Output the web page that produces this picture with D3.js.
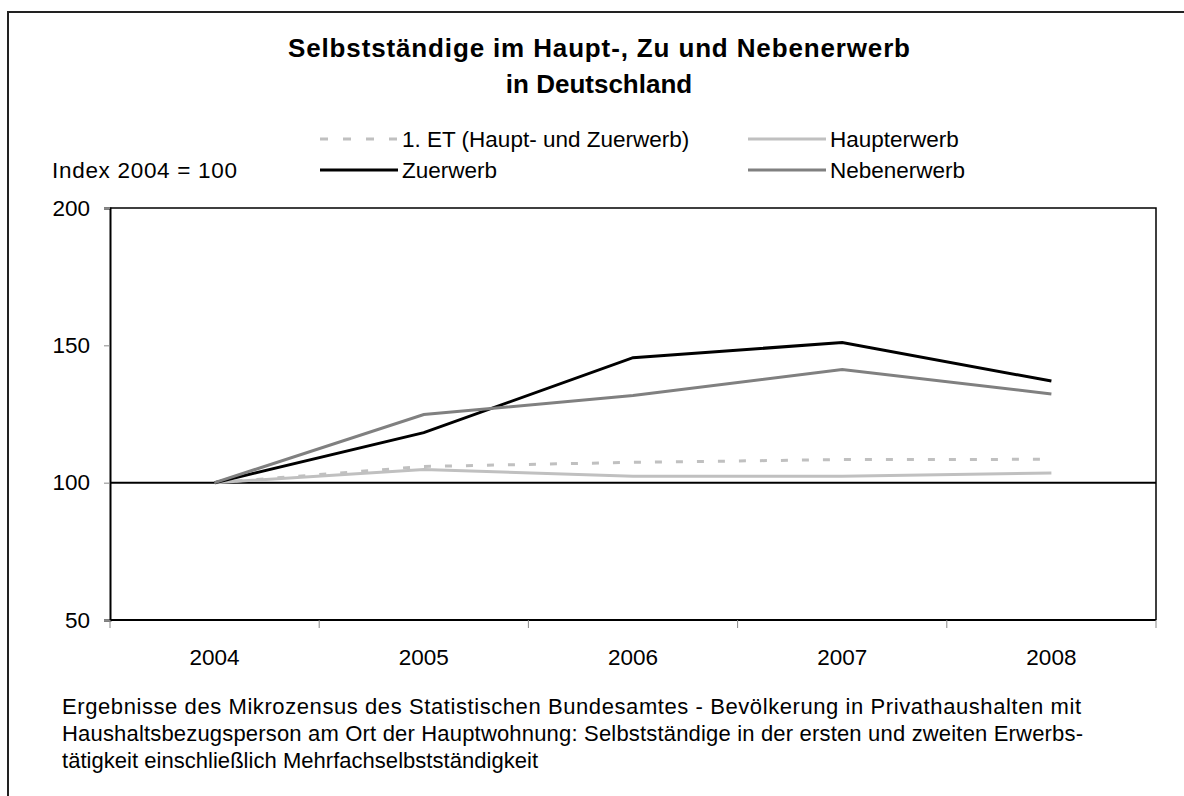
<!DOCTYPE html>
<html>
<head>
<meta charset="utf-8">
<script src="https://cdn.jsdelivr.net/npm/d3@7"></script>
<style>
  body { margin: 0; background: #fff; }
  svg text { font-family: "Liberation Sans", Arial, sans-serif; fill: #000; }
</style>
</head>
<body>
<svg id="chart" width="1184" height="796"></svg>
<script>
// data
const years = ["2004", "2005", "2006", "2007", "2008"];
const et = [100, 105.9, 107.4, 108.4, 108.5];          // 1. ET (Haupt- und Zuerwerb)
const haupt = [100, 104.8, 102.3, 102.3, 103.5];       // Haupterwerb
const zuerwerb = [100, 118.2, 145.5, 151, 137];        // Zuerwerb
const neben = [100, 124.8, 131.7, 141.2, 132.3];       // Nebenerwerb
const yTicks = [50, 100, 150, 200];
const titleLines = ["Selbstständige im Haupt-, Zu und Nebenerwerb", "in Deutschland"];
const footLines = [
  "Ergebnisse des Mikrozensus des Statistischen Bundesamtes - Bevölkerung in Privathaushalten mit",
  "Haushaltsbezugsperson am Ort der Hauptwohnung: Selbstständige in der ersten und zweiten Erwerbs-",
  "tätigkeit einschließlich Mehrfachselbstständigkeit"
];

const series = [
  {name: "1. ET (Haupt- und Zuerwerb)", values: et, color: "#c0c0c0", dash: "7,14"},
  {name: "Haupterwerb", values: haupt, color: "#c0c0c0", dash: null},
  {name: "Zuerwerb", values: zuerwerb, color: "#000000", dash: null},
  {name: "Nebenerwerb", values: neben, color: "#808080", dash: null}
];

const svg = d3.select("#chart");

// outer frame
svg.append("path")
  .attr("d", "M8,796 V12 H1184")
  .attr("fill", "none")
  .attr("stroke", "#222")
  .attr("stroke-width", 2);

const x = d3.scaleBand().domain(years).range([110, 1156]).paddingInner(0).paddingOuter(0);
const y = d3.scaleLinear().domain([50, 200]).range([620, 208]);

// title
const titleW = [622, null];
svg.selectAll(".title").data(titleLines).enter()
  .append("text")
  .attr("class", "title")
  .attr("x", 599)
  .attr("y", (d, i) => 57 + i * 36)
  .attr("text-anchor", "middle")
  .attr("textLength", (d, i) => titleW[i])
  .style("font-size", "26px")
  .style("font-weight", "bold")
  .text(d => d);

svg.append("text")
  .attr("x", 52).attr("y", 178)
  .attr("textLength", 185)
  .style("font-size", "22.5px")
  .text("Index 2004 = 100");

// plot frame (top and right)
svg.append("path")
  .attr("d", `M110,${y(200)} H1156 V${y(50)}`)
  .attr("fill", "none").attr("stroke", "#000").attr("stroke-width", 1.5);

// y axis
const yAxis = svg.append("g")
  .attr("transform", "translate(110,0)")
  .call(d3.axisLeft(y).tickValues(yTicks).tickSize(6).tickPadding(14).tickFormat(d3.format("d")));
yAxis.select(".domain").attr("stroke", "#000").attr("stroke-width", 2);
yAxis.selectAll(".tick line").attr("stroke", "#888");
yAxis.selectAll(".tick text").style("font-size", "22.5px").style("font-family", "Liberation Sans, Arial, sans-serif");

// x axis at bottom with ticks on band edges
const xAxisG = svg.append("g").attr("transform", `translate(0,${y(50)})`);
xAxisG.append("line")
  .attr("x1", 110).attr("x2", 1156)
  .attr("stroke", "#000").attr("stroke-width", 2);
const edges = years.map(d => x(d)).concat([x(years[years.length - 1]) + x.bandwidth()]);
xAxisG.selectAll(".edge").data(edges).enter()
  .append("line")
  .attr("x1", d => d).attr("x2", d => d)
  .attr("y1", 0).attr("y2", 8)
  .attr("stroke", "#888");
xAxisG.selectAll(".yr").data(years).enter()
  .append("text")
  .attr("x", d => x(d) + x.bandwidth() / 2)
  .attr("y", 45)
  .attr("text-anchor", "middle")
  .style("font-size", "22.5px")
  .text(d => d);

// reference line at 100
svg.append("line")
  .attr("x1", 110).attr("x2", 1156)
  .attr("y1", y(100)).attr("y2", y(100))
  .attr("stroke", "#000").attr("stroke-width", 2);

// lines
const line = d3.line()
  .x((d, i) => x(years[i]) + x.bandwidth() / 2)
  .y(d => y(d));

svg.selectAll(".series").data(series).enter()
  .append("path")
  .attr("class", "series")
  .attr("d", d => line(d.values))
  .attr("fill", "none")
  .attr("stroke", d => d.color)
  .attr("stroke-width", 3)
  .attr("stroke-dasharray", d => d.dash);

// legend
const legendPos = [[320, 139], [748, 139], [320, 170], [748, 170]];
const lg = svg.selectAll(".lg").data(series).enter()
  .append("g")
  .attr("transform", (d, i) => `translate(${legendPos[i][0]},${legendPos[i][1]})`);
lg.append("line")
  .attr("x1", 0).attr("x2", 78).attr("y1", 0).attr("y2", 0)
  .attr("stroke", d => d.color)
  .attr("stroke-width", 3)
  .attr("stroke-dasharray", d => d.dash ? "8,15" : null);
lg.append("text")
  .attr("x", 82).attr("y", 8)
  .style("font-size", "22.5px")
  .text(d => d.name);

// footnote
const footW = [1019, 1021, 476];
svg.selectAll(".foot").data(footLines).enter()
  .append("text")
  .attr("x", 62)
  .attr("y", (d, i) => 714 + i * 27)
  .attr("textLength", (d, i) => footW[i])
  .style("font-size", "22px")
  .text(d => d);
</script>
</body>
</html>
